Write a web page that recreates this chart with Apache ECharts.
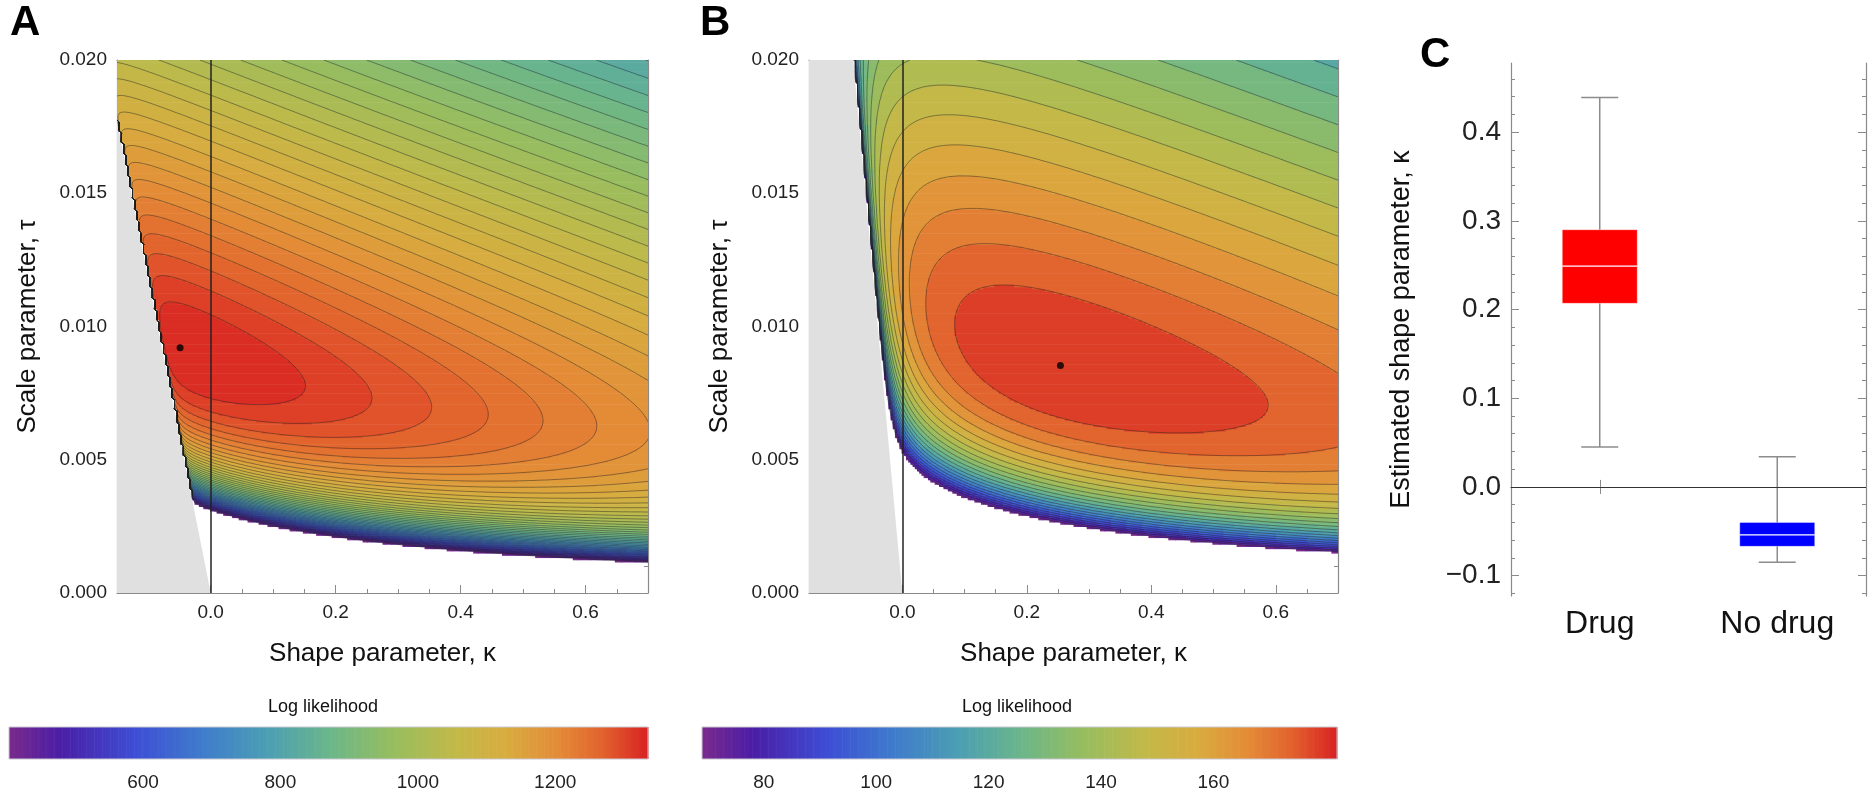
<!DOCTYPE html>
<html><head><meta charset="utf-8">
<script src="https://cdn.jsdelivr.net/npm/echarts@6/dist/echarts.min.js"></script>
<style>html,body{margin:0;background:#fff}#main{width:1875px;height:800px}</style>
</head><body><div id="main"></div>
<script>
// axis ranges and ticks
const kappaRange = [-0.15, 0.7]
const tauRange = [0, 0.02]
const kappaTicks = [0, 0.2, 0.4, 0.6]
const tauTicks = [0, 0.005, 0.01, 0.015, 0.02]
// panel A / B: fitted point, colour bar range, contour step, sample model
const mleA = [-0.049, 0.0092]
const mleB = [0.254, 0.00854]
const barA = [405, 1335], barTicksA = [600, 800, 1000, 1200]
const barB = [69, 182], barTicksB = [80, 100, 120, 140, 160]
const stepA = 20, stepB = 5
const sampleA = { n: 1100, k0: -0.125, t0: 0.0097, xmax: 0.118, w: 1.1 }
const sampleB = { n: 130, k0: 0.148, t0: 0.0092, xmax: 0.253, w: 1.6 }
// panel C box plot: [low, q1, median, q3, high]
const groups = ['Drug', 'No drug']
const boxDrug = [0.045, 0.207, 0.249, 0.290, 0.439]
const boxNoDrug = [-0.085, -0.067, -0.054, -0.040, 0.034]
const boxTicks = [-0.1, 0, 0.1, 0.2, 0.3, 0.4]

const FONT = 'Liberation Sans'
const stops = [[0,'#7a2a8c'],[0.08,'#4b1ea6'],[0.2,'#3d4fd6'],[0.3,'#3f7bcc'],[0.4,'#4b9db5'],[0.5,'#6ab68b'],
  [0.6,'#97bd5f'],[0.7,'#c2b948'],[0.78,'#d9ab3f'],[0.86,'#e48b37'],[0.93,'#e2612d'],[1,'#d82222']]
function hex(c){return [1,3,5].map(i=>parseInt(c.substr(i,2),16))}
function cmap(f){
  f = Math.max(0, Math.min(1, f))
  for (let i = 1; i < stops.length; i++) {
    if (f <= stops[i][0]) {
      const a = hex(stops[i-1][1]), b = hex(stops[i][1])
      const u = (f - stops[i-1][0]) / (stops[i][0] - stops[i-1][0])
      return 'rgb(' + a.map((v, j) => Math.round(v + (b[j]-v)*u)).join(',') + ')'
    }
  }
  return stops[stops.length-1][1]
}

function makeSample(s){
  let xs = []
  for (let i = 0; i < s.n; i++) {
    let p = (i + 0.5) / s.n
    xs.push(s.t0 / s.k0 * (Math.pow(1 - p, -s.k0) - 1))
  }
  xs[s.n-1] = s.xmax
  return xs
}
function logLik(xs, k, t){
  const n = xs.length
  if (Math.abs(k) < 1e-9) { let s = 0; xs.forEach(x => s += x); return -n*Math.log(t) - s/t }
  let s = 0
  for (let i = 0; i < n; i++) { const z = 1 + k*xs[i]/t; if (z <= 0) return NaN; s += Math.log(z) }
  return -n*Math.log(t) - (1 + 1/k)*s
}

const NX = 240, NY = 240
function buildField(spec, bar, step){
  const xs = makeSample(spec)
  const ks = [], ts = [], v = []
  for (let i = 0; i <= NX; i++) ks.push(kappaRange[0] + i*(kappaRange[1]-kappaRange[0])/NX)
  for (let j = 0; j <= NY; j++) ts.push(tauRange[0] + j*(tauRange[1]-tauRange[0])/NY)
  let best = -Infinity
  for (let j = 0; j <= NY; j++) {
    const row = []
    for (let i = 0; i <= NX; i++) {
      const val = ts[j] > 0 ? logLik(xs, ks[i], ts[j]) : NaN
      row.push(val)
      if (val > best) best = val
    }
    v.push(row)
  }
  // rescale so the peak sits at the top of the colour bar
  const peak = bar[1] - 1
  for (let j = 0; j <= NY; j++) for (let i = 0; i <= NX; i++)
    v[j][i] = peak + spec.w*(v[j][i] - best)
  const levels = []
  for (let L = peak - step; L >= bar[0]; L -= step) levels.unshift(L)
  const cells = []
  for (let j = 0; j < NY; j++) {
    let run = null
    for (let i = 0; i < NX; i++) {
      const c = [v[j][i], v[j][i+1], v[j+1][i], v[j+1][i+1]]
      let col = null
      if (c.every(isFinite)) {
        const m = (c[0]+c[1]+c[2]+c[3])/4
        if (m >= bar[0]) {
          let b = Math.floor((m - levels[0]) / step)
          let mid = b < 0 ? bar[0] : Math.min(levels[0] + (b + 0.5)*step, bar[1])
          col = cmap((mid - bar[0]) / (bar[1] - bar[0]))
        }
      }
      if (run && run.col === col) run.i1 = i + 1
      else { if (run && run.col) cells.push(run); run = { col, i0: i, i1: i + 1, j } }
    }
    if (run && run.col) cells.push(run)
  }
  // contour segments (marching squares)
  const segs = []
  const g = (j, i) => isFinite(v[j][i]) ? v[j][i] : -1e7
  levels.forEach(L => {
    for (let j = 0; j < NY; j++) for (let i = 0; i < NX; i++) {
      const P = [[i,j],[i+1,j],[i+1,j+1],[i,j+1]]
      const val = P.map(p => g(p[1], p[0]))
      const pts = []
      for (let e = 0; e < 4; e++) {
        const a = val[e], b = val[(e+1)%4]
        if ((a >= L) !== (b >= L)) {
          const u = (L - a) / (b - a), pa = P[e], pb = P[(e+1)%4]
          const fi = pa[0] + (pb[0]-pa[0])*u, fj = pa[1] + (pb[1]-pa[1])*u
          pts.push([kappaRange[0] + fi*(kappaRange[1]-kappaRange[0])/NX, tauRange[0] + fj*(tauRange[1]-tauRange[0])/NY])
        }
      }
      if (pts.length >= 2) segs.push([pts[0], pts[1]])
      if (pts.length === 4) segs.push([pts[2], pts[3]])
    }
  })
  return { ks, ts, cells, segs }
}

const fieldA = buildField(sampleA, barA, stepA)
const fieldB = buildField(sampleB, barB, stepB)

function rng(a, b, s){ const o = []; for (let x = a; x <= b + 1e-9; x += s) o.push(+x.toFixed(6)); return o }
const kappaMinor = rng(-0.15, 0.7, 0.05).filter(x => kappaTicks.every(t => Math.abs(t - x) > 1e-6))
const tauMinor = rng(0, 0.02, 0.001).filter(x => tauTicks.every(t => Math.abs(t - x) > 1e-6))
const boxMinor = rng(-0.12, 0.46, 0.02).filter(x => boxTicks.every(t => Math.abs(t - x) > 1e-6))

const frame = '#8a8a8a'
function valueAxes(dim, gi, min, max, major, minor, opts){
  const out = []
  const sides = dim === 'x' ? ['bottom', 'top'] : ['left', 'right']
  sides.forEach((pos, si) => {
    out.push(Object.assign({
      type: 'value', gridIndex: gi, position: pos, min, max,
      splitLine: { show: false },
      axisLine: { show: true, onZero: false, lineStyle: { color: frame, width: 1.2 } },
      axisTick: { show: true, inside: true, length: 8, customValues: major, lineStyle: { color: frame } },
      axisLabel: si === 0 ? { customValues: major, fontFamily: FONT, fontSize: opts.fs || 19, color: '#222', margin: 10,
        formatter: opts.fmt } : { show: false }
    }, si === 0 ? opts.main : {}))
    out.push({
      type: 'value', gridIndex: gi, position: pos, min, max,
      splitLine: { show: false }, axisLine: { show: false, onZero: false },
      axisTick: { show: true, inside: true, length: 4, customValues: minor, lineStyle: { color: frame } },
      axisLabel: { show: false }
    })
  })
  return out
}

const gridsPos = [
  { left: 117, top: 60, width: 531, height: 533 },
  { left: 809, top: 60, width: 529, height: 533 },
  { left: 1511, top: 63, width: 355, height: 533 },
  { left: 9, top: 727, width: 639, height: 32 },
  { left: 702, top: 727, width: 635, height: 32 }
]

const xAxis = [], yAxis = []
const nameStyle = { fontFamily: FONT, fontSize: 26, color: '#111' }
;[0, 1].forEach(gi => {
  const xa = valueAxes('x', gi, kappaRange[0], kappaRange[1], kappaTicks, kappaMinor,
    { fmt: v => v.toFixed(1), main: { name: 'Shape parameter, \u03ba', nameLocation: 'middle', nameGap: 48, nameTextStyle: nameStyle } })
  const ya = valueAxes('y', gi, tauRange[0], tauRange[1], tauTicks, tauMinor,
    { fmt: v => v.toFixed(3), main: { name: 'Scale parameter, \u03c4', nameLocation: 'middle', nameGap: 76, nameTextStyle: nameStyle } })
  xa.forEach(a => xAxis.push(a)); ya.forEach(a => yAxis.push(a))
})
// panel C axes
const xC = xAxis.length
;['bottom', 'top'].forEach((pos, si) => xAxis.push({
  type: 'category', gridIndex: 2, position: pos, data: groups,
  axisLine: { show: true, lineStyle: { color: frame, width: 1.2 } },
  axisTick: { show: true, inside: true, alignWithLabel: true, length: 7, lineStyle: { color: frame } },
  axisLabel: si === 0 ? { fontFamily: FONT, fontSize: 32, color: '#111', margin: 12 } : { show: false }
}))
const yC = yAxis.length
valueAxes('y', 2, -0.123, 0.478, boxTicks, boxMinor, {
  fs: 28,
  fmt: v => (v < 0 ? '\u2212' + (-v).toFixed(1) : v.toFixed(1)),
  main: { name: 'Estimated shape parameter, \u03ba', nameLocation: 'middle', nameGap: 96,
    nameTextStyle: { fontFamily: FONT, fontSize: 27, color: '#111' } }
}).forEach(a => yAxis.push(a))
// colour bars
const xBar = [], yBar = []
;[[3, barA, barTicksA], [4, barB, barTicksB]].forEach(([gi, bar, ticks]) => {
  xBar.push(xAxis.length)
  xAxis.push({ type: 'value', gridIndex: gi, min: bar[0], max: bar[1], position: 'bottom',
    splitLine: { show: false },
    axisLine: { show: false },
    axisTick: { show: true, inside: true, length: 6, customValues: ticks, lineStyle: { color: '#aaa' } },
    axisLabel: { customValues: ticks, formatter: v => String(v), fontFamily: FONT, fontSize: 19, color: '#222', margin: 14 } })
  yBar.push(yAxis.length)
  yAxis.push({ type: 'value', gridIndex: gi, min: 0, max: 1, show: false })
})

function fieldSeries(field, spec, xi, yi, mle){
  return [
    { // excluded region
      type: 'custom', xAxisIndex: xi, yAxisIndex: yi, clip: true, silent: true, z: 1,
      data: [[0, 0]],
      renderItem: (p, api) => {
        const pts = [[kappaRange[0], -kappaRange[0]*spec.xmax], [0, 0], [kappaRange[0], 0]].map(q => api.coord(q))
        return { type: 'polygon', shape: { points: pts }, style: { fill: '#e0e0e0' } }
      }
    },
    { // filled bands
      type: 'custom', xAxisIndex: xi, yAxisIndex: yi, clip: true, silent: true, z: 2,
      data: [[0, 0]],
      renderItem: (p, api) => ({
        type: 'group',
        children: field.cells.map(c => {
          const a = api.coord([field.ks[c.i0], field.ts[c.j+1]]), b = api.coord([field.ks[c.i1], field.ts[c.j]])
          return { type: 'rect', shape: { x: a[0], y: a[1], width: b[0]-a[0]+0.6, height: b[1]-a[1]+0.6 }, style: { fill: c.col } }
        })
      })
    },
    { // contour lines
      type: 'custom', xAxisIndex: xi, yAxisIndex: yi, clip: true, silent: true, z: 3,
      data: [[0, 0]],
      renderItem: (p, api) => {
        let d = ''
        field.segs.forEach(s => {
          const a = api.coord(s[0]), b = api.coord(s[1])
          d += 'M' + a[0].toFixed(1) + ' ' + a[1].toFixed(1) + 'L' + b[0].toFixed(1) + ' ' + b[1].toFixed(1)
        })
        return { type: 'path', shape: { pathData: d }, style: { fill: null, stroke: 'rgba(30,30,30,0.5)', lineWidth: 0.9 } }
      },
      markLine: { silent: true, symbol: 'none', label: { show: false }, animation: false,
        lineStyle: { color: '#222', width: 1.5, type: 'solid' }, data: [{ xAxis: 0 }] }
    },
    { type: 'scatter', xAxisIndex: xi, yAxisIndex: yi, z: 4, data: [mle], symbolSize: 7,
      itemStyle: { color: '#000' }, silent: true }
  ]
}

const series = [].concat(
  fieldSeries(fieldA, sampleA, 0, 0, mleA),
  fieldSeries(fieldB, sampleB, 4, 4, mleB),
  [{
    type: 'custom', xAxisIndex: xC, yAxisIndex: yC, z: 3, silent: true,
    data: [[0].concat(boxDrug), [1].concat(boxNoDrug)],
    renderItem: (p, api) => {
      const i = api.value(0), col = i === 0 ? '#ff0000' : '#0000ff'
      const c = k => api.coord([i, api.value(k)])
      const lo = c(1), q1 = c(2), md = c(3), q3 = c(4), hi = c(5)
      const x = lo[0], bw = 75, cw = 37, grey = { stroke: '#8c8c8c', lineWidth: 1.5 }
      return { type: 'group', children: [
        { type: 'line', shape: { x1: x, y1: hi[1], x2: x, y2: lo[1] }, style: grey },
        { type: 'line', shape: { x1: x-cw/2, y1: hi[1], x2: x+cw/2, y2: hi[1] }, style: grey },
        { type: 'line', shape: { x1: x-cw/2, y1: lo[1], x2: x+cw/2, y2: lo[1] }, style: grey },
        { type: 'rect', shape: { x: x-bw/2, y: q3[1], width: bw, height: q1[1]-q3[1] }, style: { fill: col, stroke: 'rgba(255,255,255,0.5)', lineWidth: 0.8 } },
        { type: 'line', shape: { x1: x-bw/2, y1: md[1], x2: x+bw/2, y2: md[1] }, style: { stroke: '#fff', lineWidth: 1.3 } }
      ] }
    },
    markLine: { silent: true, symbol: 'none', label: { show: false }, animation: false,
      lineStyle: { color: '#333', width: 1, type: 'solid' }, data: [{ yAxis: 0 }] }
  }],
  [[0, barA], [1, barB]].map(([bi, bar]) => ({
    type: 'custom', xAxisIndex: xBar[bi], yAxisIndex: yBar[bi], silent: true, z: 2,
    data: [[0, 0]],
    renderItem: (p, api) => {
      const ch = [], N = 240
      for (let s = 0; s < N; s++) {
        const a = api.coord([bar[0] + (bar[1]-bar[0])*s/N, 1]), b = api.coord([bar[0] + (bar[1]-bar[0])*(s+1)/N, 0])
        ch.push({ type: 'rect', shape: { x: a[0], y: a[1], width: b[0]-a[0]+0.6, height: b[1]-a[1] }, style: { fill: cmap((s+0.5)/N) } })
      }
      const a = api.coord([bar[0], 1]), b = api.coord([bar[1], 0])
      ch.push({ type: 'rect', shape: { x: a[0], y: a[1], width: b[0]-a[0], height: b[1]-a[1] }, style: { fill: null, stroke: '#c8c8d0', lineWidth: 1 } })
      return { type: 'group', children: ch }
    }
  }))
)

const letter = (t, x, y) => ({ type: 'text', left: x, top: y, style: { text: t, font: 'bold 42px "Liberation Sans"', fill: '#000' } })
const chart = echarts.init(document.getElementById('main'))
chart.setOption({
  animation: false,
  grid: gridsPos,
  xAxis, yAxis, series,
  graphic: [
    letter('A', 10, 2), letter('B', 700, 2), letter('C', 1420, 34),
    { type: 'text', left: 268, top: 698, style: { text: 'Log likelihood', font: '18px "Liberation Sans"', fill: '#111' } },
    { type: 'text', left: 962, top: 698, style: { text: 'Log likelihood', font: '18px "Liberation Sans"', fill: '#111' } }
  ]
})
</script></body></html>
